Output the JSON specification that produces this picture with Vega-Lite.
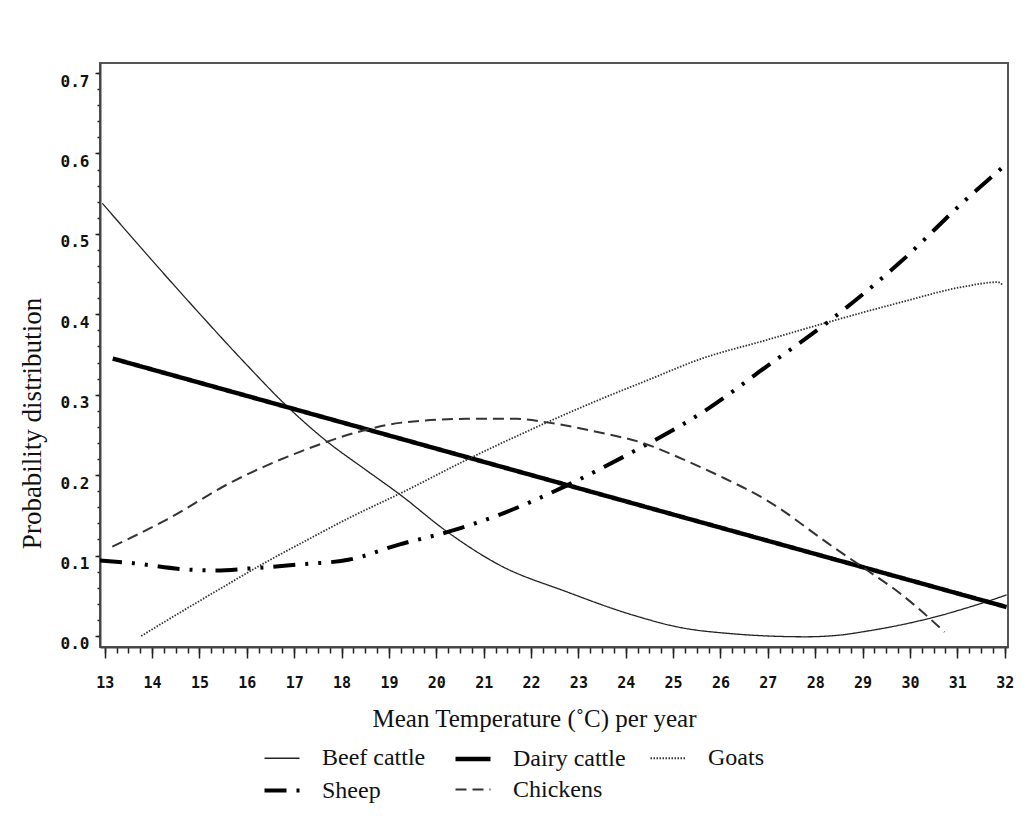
{
  "$schema": "https://vega.github.io/schema/vega-lite/v6.json",
  "width": 908,
  "height": 584,
  "autosize": {"type": "none"},
  "padding": {"left": 100, "top": 63, "right": 17, "bottom": 169},
  "background": "white",
  "config": {
    "view": {"stroke": "#555", "strokeWidth": 2},
    "axis": {"grid": false, "domainColor": "#444", "domainWidth": 2, "tickColor": "#222", "tickWidth": 1.5}
  },
  "data": {"values": [
    {"series": "Beef cattle", "t": 12.95, "v": 0.538},
    {"series": "Beef cattle", "t": 14, "v": 0.467},
    {"series": "Beef cattle", "t": 15, "v": 0.401},
    {"series": "Beef cattle", "t": 16, "v": 0.337},
    {"series": "Beef cattle", "t": 16.86, "v": 0.285},
    {"series": "Beef cattle", "t": 17.69, "v": 0.242},
    {"series": "Beef cattle", "t": 18.5, "v": 0.207},
    {"series": "Beef cattle", "t": 19.23, "v": 0.176},
    {"series": "Beef cattle", "t": 20.22, "v": 0.13},
    {"series": "Beef cattle", "t": 21.34, "v": 0.088},
    {"series": "Beef cattle", "t": 22.75, "v": 0.055},
    {"series": "Beef cattle", "t": 24.15, "v": 0.026},
    {"series": "Beef cattle", "t": 25.2, "v": 0.01},
    {"series": "Beef cattle", "t": 26.2, "v": 0.003},
    {"series": "Beef cattle", "t": 27.0, "v": 0.0},
    {"series": "Beef cattle", "t": 27.8, "v": -0.001},
    {"series": "Beef cattle", "t": 28.5, "v": 0.001},
    {"series": "Beef cattle", "t": 29.09, "v": 0.006},
    {"series": "Beef cattle", "t": 30.35, "v": 0.021},
    {"series": "Beef cattle", "t": 31.53, "v": 0.041},
    {"series": "Beef cattle", "t": 32.04, "v": 0.051},
    {"series": "Dairy cattle", "t": 13.17, "v": 0.345},
    {"series": "Dairy cattle", "t": 22.5, "v": 0.192},
    {"series": "Dairy cattle", "t": 32.04, "v": 0.036},
    {"series": "Goats", "t": 13.77, "v": 0.0},
    {"series": "Goats", "t": 14.5, "v": 0.026},
    {"series": "Goats", "t": 15.43, "v": 0.0585},
    {"series": "Goats", "t": 16.41, "v": 0.092},
    {"series": "Goats", "t": 17.26, "v": 0.119},
    {"series": "Goats", "t": 18.2, "v": 0.148},
    {"series": "Goats", "t": 19.23, "v": 0.177},
    {"series": "Goats", "t": 20.64, "v": 0.219},
    {"series": "Goats", "t": 22.39, "v": 0.267},
    {"series": "Goats", "t": 23.45, "v": 0.294},
    {"series": "Goats", "t": 24.5, "v": 0.319},
    {"series": "Goats", "t": 25.56, "v": 0.344},
    {"series": "Goats", "t": 26.97, "v": 0.368},
    {"series": "Goats", "t": 28.26, "v": 0.39},
    {"series": "Goats", "t": 29.78, "v": 0.4145},
    {"series": "Goats", "t": 31.19, "v": 0.435},
    {"series": "Goats", "t": 31.85, "v": 0.44},
    {"series": "Goats", "t": 31.95, "v": 0.437},
    {"series": "Sheep", "t": 12.9, "v": 0.094},
    {"series": "Sheep", "t": 13.6, "v": 0.0905},
    {"series": "Sheep", "t": 14.65, "v": 0.083},
    {"series": "Sheep", "t": 15.36, "v": 0.0815},
    {"series": "Sheep", "t": 16.06, "v": 0.084},
    {"series": "Sheep", "t": 17.12, "v": 0.089},
    {"series": "Sheep", "t": 18.17, "v": 0.095},
    {"series": "Sheep", "t": 19.23, "v": 0.114},
    {"series": "Sheep", "t": 20.28, "v": 0.13},
    {"series": "Sheep", "t": 21.34, "v": 0.151},
    {"series": "Sheep", "t": 22.75, "v": 0.187},
    {"series": "Sheep", "t": 24.15, "v": 0.229},
    {"series": "Sheep", "t": 25.2, "v": 0.263},
    {"series": "Sheep", "t": 25.67, "v": 0.28},
    {"series": "Sheep", "t": 26.97, "v": 0.335},
    {"series": "Sheep", "t": 28.26, "v": 0.39},
    {"series": "Sheep", "t": 29.78, "v": 0.464},
    {"series": "Sheep", "t": 31.19, "v": 0.543},
    {"series": "Sheep", "t": 32.03, "v": 0.5866},
    {"series": "Chickens", "t": 13.16, "v": 0.111},
    {"series": "Chickens", "t": 14.3, "v": 0.1445},
    {"series": "Chickens", "t": 15.7, "v": 0.192},
    {"series": "Chickens", "t": 17.12, "v": 0.229},
    {"series": "Chickens", "t": 18.53, "v": 0.2565},
    {"series": "Chickens", "t": 19.23, "v": 0.265},
    {"series": "Chickens", "t": 20.64, "v": 0.27},
    {"series": "Chickens", "t": 21.7, "v": 0.27},
    {"series": "Chickens", "t": 22.4, "v": 0.265},
    {"series": "Chickens", "t": 23.45, "v": 0.253},
    {"series": "Chickens", "t": 24.36, "v": 0.24},
    {"series": "Chickens", "t": 25.2, "v": 0.22},
    {"series": "Chickens", "t": 25.98, "v": 0.199},
    {"series": "Chickens", "t": 26.97, "v": 0.169},
    {"series": "Chickens", "t": 28.37, "v": 0.111},
    {"series": "Chickens", "t": 29.09, "v": 0.082},
    {"series": "Chickens", "t": 29.78, "v": 0.0535},
    {"series": "Chickens", "t": 30.73, "v": 0.005}
  ]},
  "resolve": {"axis": {"x": "independent", "y": "independent"}},
  "layer": [
    {
      "mark": {"type": "point", "opacity": 0},
      "encoding": {
        "x": {"field": "t", "type": "quantitative",
          "scale": {"domain": [12.9, 32.07], "nice": false, "zero": false},
          "axis": {"orient": "bottom", "domain": false, "labels": false, "title": null, "tickSize": 6,
            "values": [13,13.25,13.5,13.75,14,14.25,14.5,14.75,15,15.25,15.5,15.75,16,16.25,16.5,16.75,17,17.25,17.5,17.75,18,18.25,18.5,18.75,19,19.25,19.5,19.75,20,20.25,20.5,20.75,21,21.25,21.5,21.75,22,22.25,22.5,22.75,23,23.25,23.5,23.75,24,24.25,24.5,24.75,25,25.25,25.5,25.75,26,26.25,26.5,26.75,27,27.25,27.5,27.75,28,28.25,28.5,28.75,29,29.25,29.5,29.75,30,30.25,30.5,30.75,31,31.25,31.5,31.75,32]}},
        "y": {"field": "v", "type": "quantitative",
          "scale": {"domain": [-0.0137, 0.7125], "nice": false, "zero": false},
          "axis": {"orient": "left", "domain": false, "labels": false, "title": null, "tickSize": 3,
            "values": [0,0.02,0.04,0.06,0.08,0.1,0.12,0.14,0.16,0.18,0.2,0.22,0.24,0.26,0.28,0.3,0.32,0.34,0.36,0.38,0.4,0.42,0.44,0.46,0.48,0.5,0.52,0.54,0.56,0.58,0.6,0.62,0.64,0.66,0.68,0.7]}}
      }
    },
    {
      "mark": {"type": "line", "interpolate": "monotone", "strokeCap": "butt"},
      "encoding": {
        "x": {"field": "t", "type": "quantitative",
          "scale": {"domain": [12.9, 32.07], "nice": false, "zero": false},
          "axis": {"orient": "bottom", "values": [13,14,15,16,17,18,19,20,21,22,23,24,25,26,27,28,29,30,31,32],
            "tickSize": 11, "labelPadding": 17, "labelFont": "DejaVu Sans Mono", "labelFontWeight": "bold", "labelFontSize": 15, "labelColor": "#111",
            "title": "Mean Temperature (˚C) per year", "titleFont": "Liberation Serif", "titleFontSize": 25, "titleFontWeight": "normal", "titleColor": "#111",
            "titleX": 434, "titleY": 79, "titleAlign": "center", "titleBaseline": "alphabetic"}},
        "y": {"field": "v", "type": "quantitative",
          "scale": {"domain": [-0.0137, 0.7125], "nice": false, "zero": false},
          "axis": {"orient": "left", "values": [0,0.1,0.2,0.3,0.4,0.5,0.6,0.7], "format": ".1f",
            "tickSize": 5, "labelPadding": 6, "labelBaseline": "top", "labelFont": "DejaVu Sans Mono", "labelFontWeight": "bold", "labelFontSize": 16, "labelColor": "#111",
            "title": "Probability distribution", "titleFont": "Liberation Serif", "titleFontSize": 27, "titleFontWeight": "normal", "titleColor": "#111",
            "titleAngle": 270, "titleX": -60, "titleY": 360, "titleAlign": "center", "titleBaseline": "alphabetic"}},
        "color": {"field": "series", "type": "nominal",
          "scale": {"domain": ["Beef cattle", "Dairy cattle", "Goats", "Sheep", "Chickens"], "range": ["#222222", "#000000", "#333333", "#000000", "#333333"]},
          "legend": {"orient": "none", "legendX": 162, "legendY": 676, "direction": "horizontal", "columns": 3, "title": null,
            "padding": 0, "columnPadding": 20, "rowPadding": 0, "symbolType": "stroke", "symbolSize": 1225, "labelOffset": 20,
            "labelFont": "Liberation Serif", "labelFontSize": 24, "labelColor": "#111", "labelBaseline": "middle", "labelLimit": 300}},
        "strokeDash": {"field": "series", "type": "nominal",
          "scale": {"domain": ["Beef cattle", "Dairy cattle", "Goats", "Sheep", "Chickens"], "range": [[1, 0], [1, 0], [1.5, 1.5], [22, 10, 3, 10, 3, 10], [11, 6]]},
          "legend": {"orient": "none", "legendX": 162, "legendY": 676, "direction": "horizontal", "columns": 3, "title": null}},
        "strokeWidth": {"field": "series", "type": "nominal",
          "scale": {"type": "ordinal", "domain": ["Beef cattle", "Dairy cattle", "Goats", "Sheep", "Chickens"], "range": [1.3, 4.5, 1.8, 4, 2]},
          "legend": {"orient": "none", "legendX": 162, "legendY": 676, "direction": "horizontal", "columns": 3, "title": null}}
      }
    }
  ]
}
